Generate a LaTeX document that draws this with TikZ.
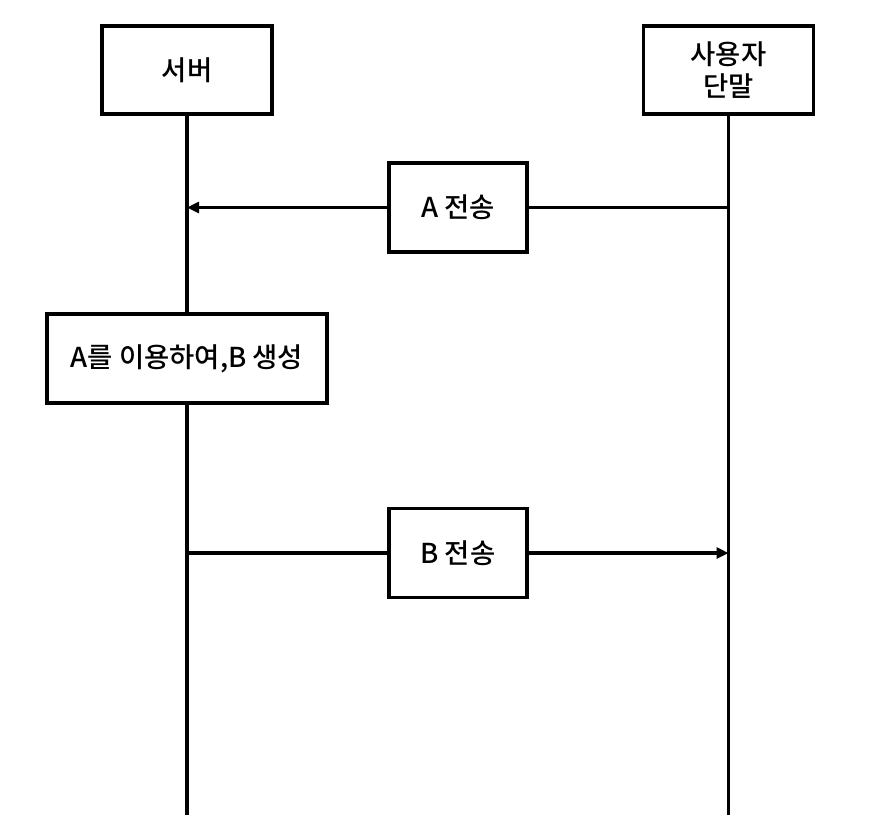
\documentclass[tikz,border=0pt]{standalone}
\usepackage{fontspec}
\setmainfont{Noto Sans CJK KR}[BoldFont={Noto Sans CJK KR Medium}]
\usepackage{xcolor}
\usepackage{tikz}
\usetikzlibrary{arrows.meta,positioning,calc}
\tikzset{
    every picture/.style={line join=miter},
    lifebox/.style={draw=black,fill=white,line width=1.9pt,
      minimum width=34mm,minimum height=17.6mm,inner sep=2pt,
      font=\fontsize{15.6}{19}\selectfont\bfseries,align=center},
    stepbox/.style={lifebox,minimum width=27.6mm,minimum height=17.8mm},
    lifeline/.style={draw=black,line width=1.9pt},
    msgarrow/.style={lifeline,-{Triangle[length=2.4mm,width=2.2mm]}}
}

\begin{document}
\begin{tikzpicture}[x=0.2mm,y=-0.2mm]
  \useasboundingbox (0,0) rectangle (872,836);
  % participants
  \node[lifebox] (server) at (187,70){서버};
  \node[lifebox] (user) at (728.5,70){사용자\\[-1pt]단말};
  % steps
  \node[stepbox] (aSend) at (458,207.5){A 전송};
  \node[stepbox,minimum width=56mm] (gen) at (187,358.5){A를 이용하여,B 생성};
  \node[stepbox] (bSend) at (458,553){B 전송};
  \coordinate (serverEnd) at (187,815);
  \coordinate (userEnd) at (728.5,815);
  % lifelines
  \draw[lifeline] (server.south)--(gen.north);
  \draw[lifeline] (gen.south)--(serverEnd);
  \draw[lifeline] (user.south)--(userEnd);
  % messages
  \draw[lifeline] (aSend -| user)--(aSend.east);
  \draw[msgarrow] (aSend.west)--(aSend -| server);
  \draw[lifeline] (bSend -| server)--(bSend.west);
  \draw[msgarrow] (bSend.east)--(bSend -| user);
\end{tikzpicture}
\end{document}
